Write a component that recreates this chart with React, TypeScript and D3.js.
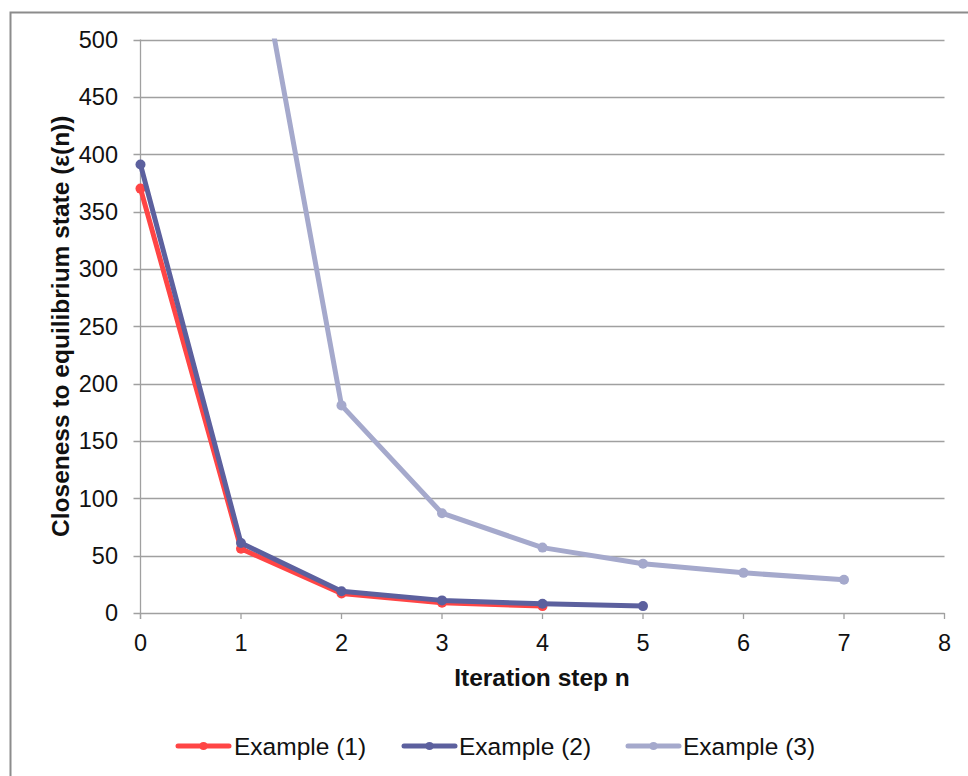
import React from "react";
import * as d3 from "d3";

const steps1 = [0, 1, 2, 3, 4];
const values1 = [370, 56, 17, 9, 6];
const steps2 = [0, 1, 2, 3, 4, 5];
const values2 = [391, 61, 19, 11, 8, 6];
const steps3 = [1, 2, 3, 4, 5, 6, 7];
const values3 = [660, 181, 87, 57, 43, 35, 29];
const seriesNames = ["Example (1)", "Example (2)", "Example (3)"];
const seriesColors = ["#ff4545", "#5c609e", "#a5a9cc"];
const xTicks = [0, 1, 2, 3, 4, 5, 6, 7, 8];
const yTicks = [0, 50, 100, 150, 200, 250, 300, 350, 400, 450, 500];
const xTitle = "Iteration step n";
const yTitle = "Closeness to equilibrium state (ε(n))";

const W = 968;
const H = 776;
const plot = { left: 140.5, right: 944.5, top: 39.5, bottom: 613 };

export default function App() {
  const x = d3.scaleLinear().domain([0, 8]).range([plot.left, plot.right]);
  const y = d3.scaleLinear().domain([0, 500]).range([plot.bottom, plot.top]);
  const series = [
    { name: seriesNames[0], color: seriesColors[0], pts: steps1.map((s, i) => [s, values1[i]] as [number, number]) },
    { name: seriesNames[1], color: seriesColors[1], pts: steps2.map((s, i) => [s, values2[i]] as [number, number]) },
    { name: seriesNames[2], color: seriesColors[2], pts: steps3.map((s, i) => [s, values3[i]] as [number, number]) },
  ];
  const line = d3
    .line<[number, number]>()
    .x((d) => x(d[0]))
    .y((d) => y(d[1]));
  const font = "'Liberation Sans', Arial, sans-serif";
  const legendItems = [
    { lx: 178, tx: 234 },
    { lx: 404, tx: 459 },
    { lx: 628, tx: 683 },
  ];
  const legendY = 746;
  const drawOrder = [2, 0, 1];
  return (
    <svg
      width={W}
      height={H}
      style={{ position: "absolute", left: 0, top: 0, display: "block", background: "#fff" }}
      fontFamily={font}
    >
      <defs>
        <clipPath id="plotclip">
          <rect x={plot.left - 10} y={plot.top - 1} width={plot.right - plot.left + 20} height={plot.bottom - plot.top + 20} />
        </clipPath>
      </defs>
      <path d={`M10.5,${H + 5}V12.5H${W + 5}`} fill="none" stroke="#8c8c8c" strokeWidth={2} />
      {yTicks.map((t) => (
        <g key={"y" + t}>
          <line x1={plot.left - 7} x2={plot.right} y1={Math.round(y(t)) + 0.5} y2={Math.round(y(t)) + 0.5} stroke="#a0a0a0" strokeWidth={1.3} />
          <text x={118} y={y(t)} dy="0.36em" textAnchor="end" fontSize={23.5} fill="#111">
            {t}
          </text>
        </g>
      ))}
      <line x1={plot.left} x2={plot.left} y1={plot.top} y2={plot.bottom + 6} stroke="#a0a0a0" strokeWidth={1.3} />
      {xTicks.map((t) => (
        <g key={"x" + t}>
          <line x1={x(t)} x2={x(t)} y1={plot.bottom} y2={plot.bottom + 6} stroke="#a0a0a0" strokeWidth={1.3} />
          <text x={x(t)} y={651} textAnchor="middle" fontSize={23.5} fill="#111">
            {t}
          </text>
        </g>
      ))}
      <text x={542} y={686} textAnchor="middle" fontSize={24.5} fontWeight="bold" fill="#111">
        {xTitle}
      </text>
      <text
        transform={`translate(69,${(plot.top + plot.bottom) / 2}) rotate(-90)`}
        textAnchor="middle"
        fontSize={24.5}
        fontWeight="bold"
        fill="#111"
      >
        {yTitle}
      </text>
      <g clipPath="url(#plotclip)">
        {drawOrder.map((i) => {
          const s = series[i];
          return (
            <g key={s.name}>
              <path d={line(s.pts) || ""} fill="none" stroke={s.color} strokeWidth={5} strokeLinejoin="round" strokeLinecap="round" />
              {s.pts.map((p, j) => (
                <circle key={j} cx={x(p[0])} cy={y(p[1])} r={5} fill={s.color} />
              ))}
            </g>
          );
        })}
      </g>
      {series.map((s, i) => (
        <g key={"lg" + i}>
          <line x1={legendItems[i].lx} x2={legendItems[i].lx + 51} y1={legendY} y2={legendY} stroke={s.color} strokeWidth={5} strokeLinecap="round" />
          <circle cx={legendItems[i].lx + 25.5} cy={legendY} r={4} fill={s.color} />
          <text x={legendItems[i].tx} y={legendY} dy="0.36em" fontSize={24.5} fill="#111">
            {s.name}
          </text>
        </g>
      ))}
    </svg>
  );
}
